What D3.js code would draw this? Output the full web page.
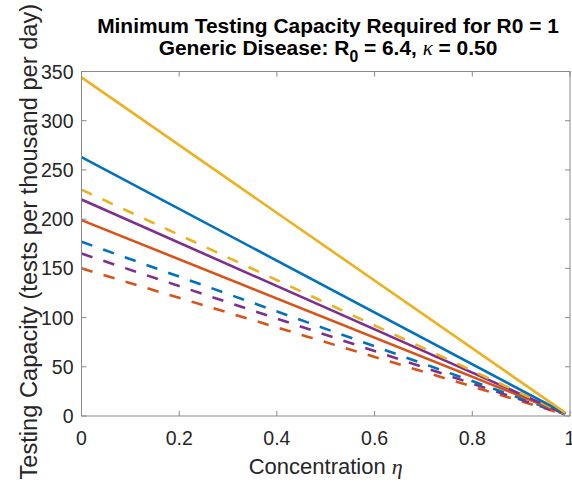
<!DOCTYPE html>
<html><head><meta charset="utf-8">
<script src="https://cdn.jsdelivr.net/npm/d3@7"></script>
<style>body{margin:0;background:#fff}svg{display:block}text{font-family:"Liberation Sans",Arial,sans-serif}</style>
</head><body><svg id="c" width="572" height="483"></svg>
<script>
const etaStart = 0, etaEnd = 0.99;
const seriesNames = ["yellowSolid","blueSolid","yellowDashed","purpleSolid","orangeSolid","blueDashed","purpleDashed","orangeDashed"];
const seriesColors = ["#EDB120","#0072BD","#EDB120","#7E2F8E","#D95319","#0072BD","#7E2F8E","#D95319"];
const seriesDashed = [false,false,true,false,false,true,true,true];
const startValues = [344, 263, 230, 220, 199, 177, 165, 150];
const endValues = [3.4, 2.6, 2.3, 2.2, 2.0, 1.8, 1.6, 1.5];
const xTicks = [0,0.2,0.4,0.6,0.8,1];
const yTicks = [0,50,100,150,200,250,300,350];

const svg = d3.select("#c");
const L=81.5, R=570, T=71.5, B=416;
const x = d3.scaleLinear().domain([0,1]).range([L,R]);
const y = d3.scaleLinear().domain([0,350]).range([B,T]);
const txt="#262626", axc="#8a8a8a";

function fitWidth(sel, target){
  const w = sel.node().getComputedTextLength();
  const fs = parseFloat(sel.attr("font-size"));
  sel.attr("font-size", fs*target/w);
}

// lines
const line = d3.line().x(d=>x(d[0])).y(d=>y(d[1]));
d3.range(startValues.length).reverse().forEach(i=>{
  svg.append("path").attr("d", line([[etaStart,startValues[i]],[etaEnd,endValues[i]]]))
    .attr("fill","none").attr("stroke",seriesColors[i]).attr("stroke-width",2.6)
    .attr("stroke-dasharray", seriesDashed[i]?"11.5,11.5":null);
});

// axes frame
const g = svg.append("g");
g.append("rect").attr("x",L).attr("y",T).attr("width",R-L).attr("height",B-T)
  .attr("fill","none").attr("stroke",axc).attr("stroke-width",1);
const tl=5;
xTicks.forEach(t=>{
  g.append("line").attr("x1",x(t)).attr("x2",x(t)).attr("y1",B).attr("y2",B-tl).attr("stroke",axc);
  g.append("line").attr("x1",x(t)).attr("x2",x(t)).attr("y1",T).attr("y2",T+tl).attr("stroke",axc);
  g.append("text").attr("x",x(t)).attr("y",445).attr("text-anchor","middle").attr("font-size",19.5).attr("fill",txt).text(d3.format("")(t));
});
yTicks.forEach(t=>{
  g.append("line").attr("x1",L).attr("x2",L+tl).attr("y1",y(t)).attr("y2",y(t)).attr("stroke",axc);
  g.append("line").attr("x1",R).attr("x2",R-tl).attr("y1",y(t)).attr("y2",y(t)).attr("stroke",axc);
  g.append("text").attr("x",L-8).attr("y",y(t)+7).attr("text-anchor","end").attr("font-size",19.5).attr("fill",txt).text(t);
});

// labels
const xl = svg.append("text").attr("x",(L+R)/2).attr("y",473.5).attr("text-anchor","middle").attr("font-size",22).attr("fill",txt);
xl.append("tspan").text("Concentration ");
xl.append("tspan").attr("font-family","'Liberation Serif',serif").attr("font-style","italic").text("η");
const yl = svg.append("text").attr("transform",`translate(37,241.7) rotate(-90)`).attr("text-anchor","middle")
  .attr("font-size",22).attr("fill",txt).text("Testing Capacity (tests per thousand per day)");
fitWidth(yl, 476);

// title
const t1 = svg.append("text").attr("x",328).attr("y",32.7).attr("text-anchor","middle").attr("font-size",21).attr("font-weight","bold").attr("fill","#000")
  .text("Minimum Testing Capacity Required for R0 = 1");
fitWidth(t1, 462);
const tfs = parseFloat(t1.attr("font-size"));
const t2 = svg.append("text").attr("x",328).attr("y",54.5).attr("text-anchor","middle").attr("font-size",tfs).attr("font-weight","bold").attr("fill","#000");
t2.append("tspan").text("Generic Disease: R");
t2.append("tspan").attr("font-size",tfs*0.75).attr("dy",7).text("0");
t2.append("tspan").attr("dy",-7).text(" = 6.4, ");
t2.append("tspan").attr("font-family","'Liberation Serif',serif").attr("font-style","italic").attr("font-weight","normal").text("κ");
t2.append("tspan").text(" = 0.50");
</script></body></html>
